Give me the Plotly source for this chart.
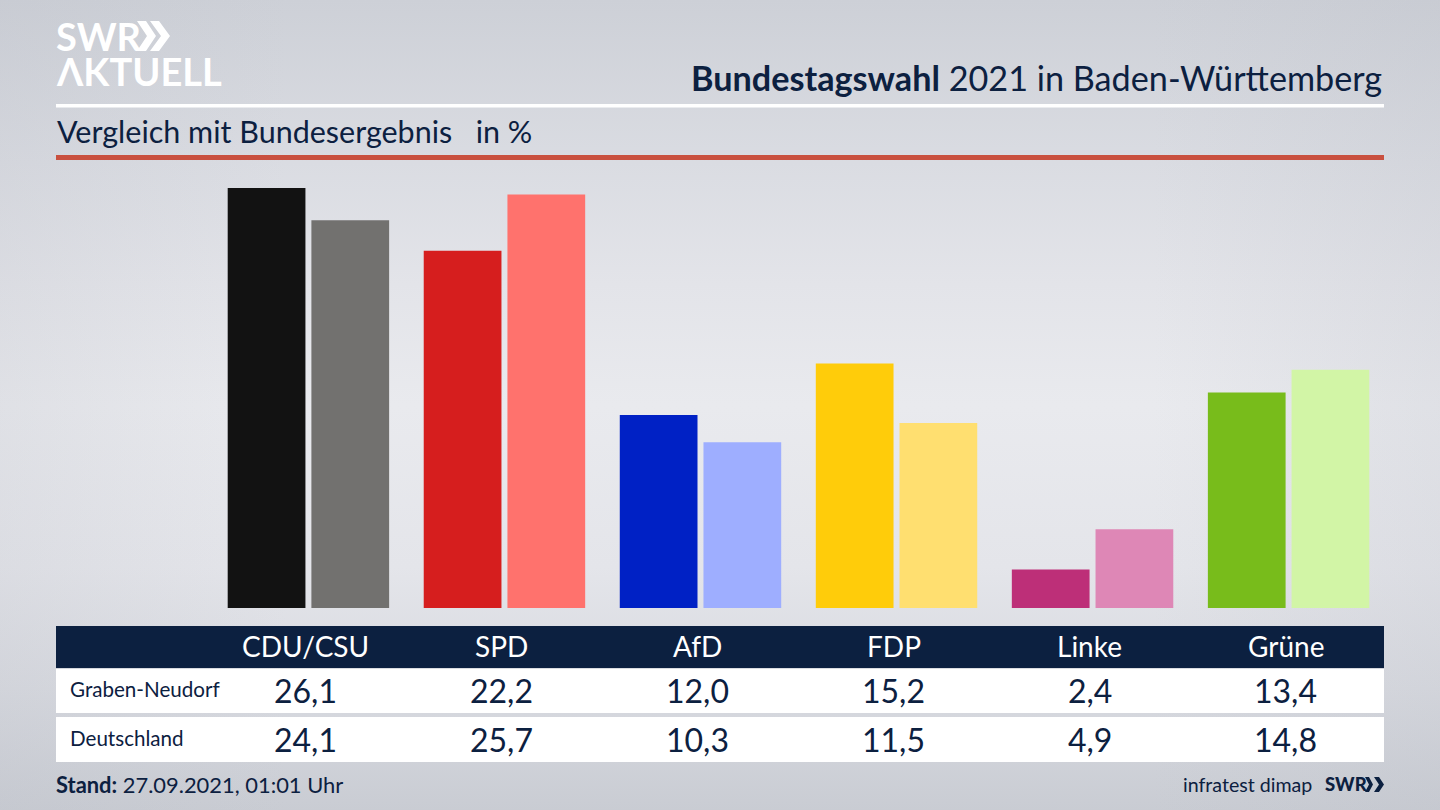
import base64
import plotly.graph_objects as go

parties = ["CDU/CSU", "SPD", "AfD", "FDP", "Linke", "Grüne"]
graben_neudorf = [26.1, 22.2, 12.0, 15.2, 2.4, 13.4]
deutschland = [24.1, 25.7, 10.3, 11.5, 4.9, 14.8]
row_names = ["Graben-Neudorf", "Deutschland"]
colors_local = ["#121212", "#d61e1e", "#0021c5", "#ffcc0a", "#bd2f78", "#78bc1b"]
colors_federal = ["#72716f", "#ff726d", "#9eaeff", "#ffdf70", "#de87b6", "#d2f5a6"]

W, H = 1440, 810
NAVY = "#0c2040"
FONT = "Lato"


def px(x):
    return x / W


def py(y):
    return 1 - y / H


def fmt(v):
    return f"{v:.1f}".replace(".", ",")


svg = f"""<svg xmlns='http://www.w3.org/2000/svg' width='{W}' height='{H}'>
<defs>
<linearGradient id='a' x1='0' y1='0' x2='0' y2='1'>
<stop offset='0' stop-color='#cdd0d7'/><stop offset='0.2' stop-color='#dadce2'/>
<stop offset='0.35' stop-color='#e3e4e9'/><stop offset='0.5' stop-color='#e9eaee'/>
<stop offset='0.7' stop-color='#e4e5ea'/><stop offset='0.85' stop-color='#d8dae0'/>
<stop offset='1' stop-color='#c9ccd3'/></linearGradient>
<linearGradient id='b' x1='0' y1='0' x2='1' y2='0'>
<stop offset='0' stop-color='#b8bbc4' stop-opacity='0.2'/><stop offset='0.2' stop-color='#b8bbc4' stop-opacity='0'/>
<stop offset='0.8' stop-color='#b8bbc4' stop-opacity='0'/><stop offset='1' stop-color='#b8bbc4' stop-opacity='0.2'/></linearGradient>
</defs>
<rect width='{W}' height='{H}' fill='url(#a)'/><rect width='{W}' height='{H}' fill='url(#b)'/></svg>"""
bg_uri = "data:image/svg+xml;base64," + base64.b64encode(svg.encode()).decode()

fig = go.Figure()
fig.add_bar(x=parties, y=graben_neudorf, name=row_names[0], marker_color=colors_local, marker_line_width=0)
fig.add_bar(x=parties, y=deutschland, name=row_names[1], marker_color=colors_federal, marker_line_width=0)


def rect(x0, y0, x1, y1, color):
    return dict(type="rect", xref="paper", yref="paper", x0=px(x0), x1=px(x1), y0=py(y0), y1=py(y1),
                fillcolor=color, line_width=0, layer="below")


def chevron(x, y0, y1, w, d, color):
    ym = (y0 + y1) / 2
    pts = [(x, y0), (x + w, y0), (x + w + d, ym), (x + w, y1), (x, y1), (x + d, ym)]
    path = "M" + "L".join(f"{px(a):.5f},{py(b):.5f}" for a, b in pts) + "Z"
    return dict(type="path", xref="paper", yref="paper", path=path, fillcolor=color, line_width=0, layer="above")


shapes = [
    rect(56, 104, 1384, 107.5, "#ffffff"),
    rect(56, 155, 1384, 160, "#c9503f"),
    rect(56, 626, 1384, 668, NAVY),
    rect(56, 669, 1384, 713, "#ffffff"),
    rect(56, 717, 1384, 762, "#ffffff"),
    chevron(137, 21, 51, 9, 10, "#ffffff"),
    chevron(150, 21, 51, 9, 11, "#ffffff"),
    chevron(1365, 777, 792, 4, 4, NAVY),
    chevron(1374, 777, 792, 5, 5, NAVY),
]


def text(x, y, s, size, color=NAVY, anchor="left", family=FONT, weight=None):
    font = dict(family=family, size=size, color=color)
    if weight:
        font["weight"] = weight
    return dict(xref="paper", yref="paper", x=px(x), y=py(y), text=s, showarrow=False,
                xanchor=anchor, yanchor="middle", align=anchor, font=font)


ann = [
    text(54, 36, "<b>SWR</b>", 38, "#ffffff"),
    text(54, 71, "<b>ΛKTUELL</b>", 38, "#ffffff"),
    text(1384, 77, "<b>Bundestagswahl</b> 2021 in Baden-Württemberg", 34.2, anchor="right"),
    text(55, 131, "Vergleich mit Bundesergebnis&nbsp;&nbsp;&nbsp;in %", 30.5),
    text(68, 689, row_names[0], 20.6),
    text(68, 738, row_names[1], 20.6),
    text(54, 784, "<b>Stand:</b> 27.09.2021, 01:01 Uhr", 21.9),
    text(1314, 784, "infratest dimap", 19.6, anchor="right"),
    text(1323, 784, "SWR", 18.5, weight=900),
]

for i, p in enumerate(parties):
    for yy, s, size, col in [
        (646, p, 28, "#ffffff"),
        (690, fmt(graben_neudorf[i]), 32, NAVY),
        (739, fmt(deutschland[i]), 32, NAVY),
    ]:
        ann.append(dict(xref="x", yref="paper", x=p, xshift=-3, y=py(yy), text=s, showarrow=False,
                        xanchor="center", yanchor="middle",
                        font=dict(family=FONT, size=size, color=col)))

fig.update_layout(
    width=W, height=H, margin=dict(l=0, r=0, t=0, b=0), showlegend=False,
    paper_bgcolor="#dcdee3", plot_bgcolor="rgba(0,0,0,0)",
    barmode="group", bargap=0.146, bargroupgap=0.0714,
    font=dict(family=FONT),
    shapes=shapes, annotations=ann,
    images=[dict(source=bg_uri, xref="paper", yref="paper", x=0, y=1, sizex=1, sizey=1,
                 xanchor="left", yanchor="top", sizing="stretch", layer="below")],
    xaxis=dict(domain=[px(210.4), px(1386.6)], visible=False, type="category"),
    yaxis=dict(domain=[py(608), py(608 - 16.09 * 27)], range=[0, 27], visible=False),
)
fig.write_html("out.html", post_script="document.body.style.margin='0';", config=dict(displayModeBar=False))
